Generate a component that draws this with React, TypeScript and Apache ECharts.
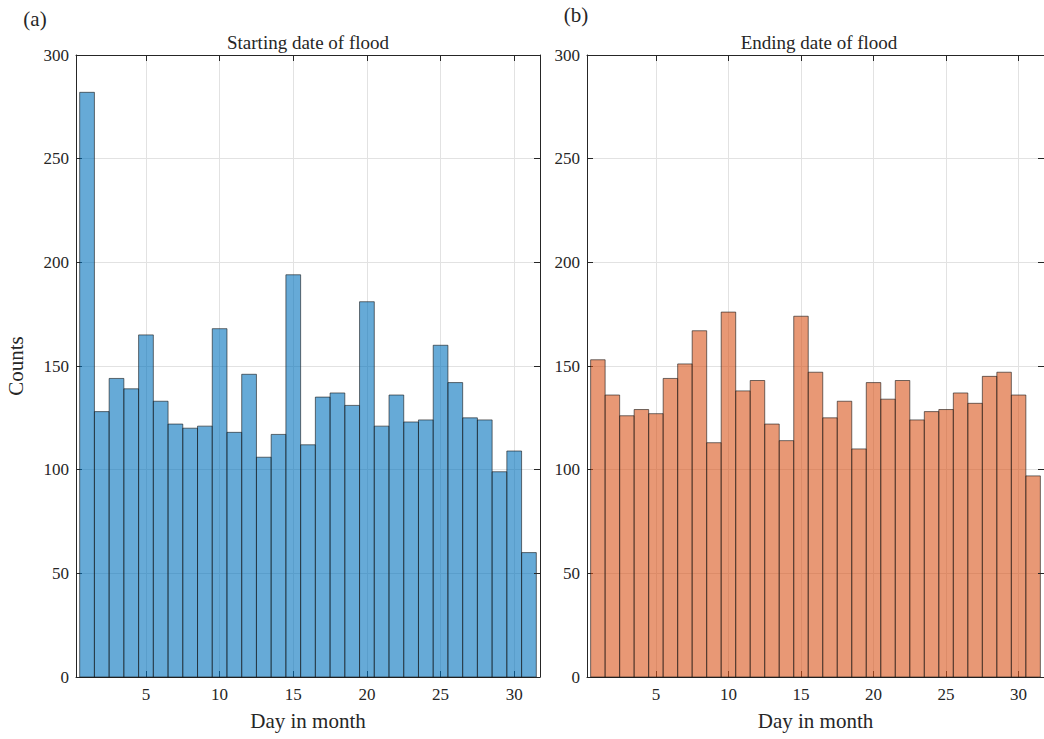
import React, { useEffect, useRef } from "react";
import * as echarts from "echarts";

const days = Array.from({ length: 31 }, (_, i) => i + 1);
const startCounts = [282, 128, 144, 139, 165, 133, 122, 120, 121, 168, 118, 146, 106, 117, 194, 112, 135, 137, 131, 181, 121, 136, 123, 124, 160, 142, 125, 124, 99, 109, 60];
const endCounts = [153, 136, 126, 129, 127, 144, 151, 167, 113, 176, 138, 143, 122, 114, 174, 147, 125, 133, 110, 142, 134, 143, 124, 128, 129, 137, 132, 145, 147, 136, 97];
const xTicks = [5, 10, 15, 20, 25, 30];
const titles = ["Starting date of flood", "Ending date of flood"];
const panelLabels = ["(a)", "(b)"];
const xLabel = "Day in month";
const yLabel = "Counts";

const FONT = "Liberation Serif, Times New Roman, serif";
const AX = "#262626";

export default function App() {
  const ref = useRef<HTMLDivElement>(null);
  useEffect(() => {
    const chart = echarts.init(ref.current!, null, { renderer: "svg" });
    const grids = [
      { left: 76, top: 55, width: 464, height: 622 },
      { left: 587, top: 55, width: 464, height: 622 },
    ];
    const xAxes: any[] = [];
    const yAxes: any[] = [];
    grids.forEach((_, gi) => {
      xAxes.push({
        type: "value", gridIndex: gi, min: 0.25, max: 31.75, position: "bottom",
        axisLine: { show: true, onZero: false, lineStyle: { color: AX, width: 1 } },
        axisTick: { show: true, inside: true, length: 6, customValues: xTicks, lineStyle: { color: AX } },
        axisLabel: { show: true, customValues: xTicks, color: AX, fontFamily: FONT, fontSize: 17, margin: 9 },
        splitLine: { show: true, lineStyle: { color: "#e2e2e2", width: 1 } },
        name: xLabel, nameLocation: "middle", nameGap: 33,
        nameTextStyle: { fontFamily: FONT, fontSize: 21, color: AX },
      });
      xAxes.push({
        type: "value", gridIndex: gi, min: 0.25, max: 31.75, position: "top", z: 5,
        axisLine: { show: true, onZero: false, lineStyle: { color: AX, width: 1 } },
        axisTick: { show: true, inside: true, length: 6, customValues: xTicks, lineStyle: { color: AX } },
        axisLabel: { show: false },
        splitLine: { show: false },
      });
      yAxes.push({
        type: "value", gridIndex: gi, min: 0, max: 300, interval: 50, position: "left",
        axisLine: { show: true, onZero: false, lineStyle: { color: AX, width: 1 } },
        axisTick: { show: true, inside: true, length: 6, lineStyle: { color: AX } },
        axisLabel: { show: true, color: AX, fontFamily: FONT, fontSize: 17, margin: 7 },
        splitLine: { show: true, lineStyle: { color: "#e2e2e2", width: 1 } },
        name: gi === 0 ? yLabel : "", nameLocation: "middle", nameGap: 50,
        nameTextStyle: { fontFamily: FONT, fontSize: 21, color: AX },
      });
      yAxes.push({
        type: "value", gridIndex: gi, min: 0, max: 300, interval: 50, position: "right", z: 5,
        axisLine: { show: true, onZero: false, lineStyle: { color: AX, width: 1 } },
        axisTick: { show: true, inside: true, length: 6, lineStyle: { color: AX } },
        axisLabel: { show: false },
        splitLine: { show: false },
      });
    });

    const mkSeries = (vals: number[], gi: number, fill: string) => ({
      type: "custom",
      xAxisIndex: gi * 2,
      yAxisIndex: gi * 2,
      data: days.map((d, i) => [d, vals[i]]),
      renderItem: (params: any, api: any) => {
        const x = api.value(0);
        const v = api.value(1);
        const p1 = api.coord([x - 0.5, v]);
        const p2 = api.coord([x + 0.5, 0]);
        return {
          type: "rect",
          shape: { x: p1[0], y: p1[1], width: p2[0] - p1[0], height: p2[1] - p1[1] },
          style: { fill, stroke: "rgba(20,20,20,0.85)", lineWidth: 0.7 },
        };
      },
    });

    chart.setOption({
      animation: false,
      backgroundColor: "#ffffff",
      grid: grids,
      xAxis: xAxes,
      yAxis: yAxes,
      graphic: [
        { type: "text", x: 308, y: 42, style: { text: titles[0], font: `19px ${FONT}`, fill: AX, align: "center", verticalAlign: "middle" } },
        { type: "text", x: 819, y: 42, style: { text: titles[1], font: `19px ${FONT}`, fill: AX, align: "center", verticalAlign: "middle" } },
        { type: "text", x: 35, y: 19, style: { text: panelLabels[0], font: `21px ${FONT}`, fill: AX, align: "center", verticalAlign: "middle" } },
        { type: "text", x: 576, y: 15, style: { text: panelLabels[1], font: `21px ${FONT}`, fill: AX, align: "center", verticalAlign: "middle" } },
      ],
      series: [
        mkSeries(startCounts, 0, "rgba(0,114,189,0.6)"),
        mkSeries(endCounts, 1, "rgba(217,83,25,0.6)"),
      ],
    });
    return () => chart.dispose();
  }, []);
  return (
    <div
      ref={ref}
      style={{ position: "fixed", left: 0, top: 0, width: 1044, height: 739, background: "#fff" }}
    />
  );
}
